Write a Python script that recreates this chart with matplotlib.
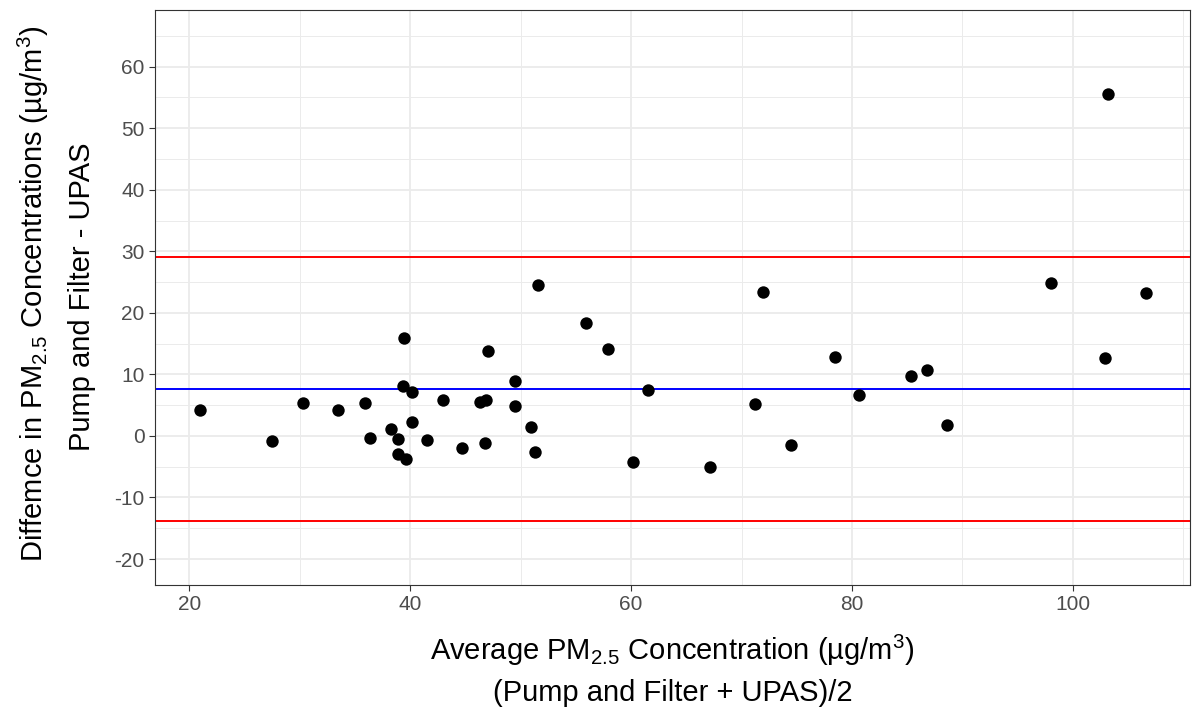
import numpy as np
import matplotlib.pyplot as plt
from matplotlib.ticker import MultipleLocator

plt.rcParams['font.family'] = ['Liberation Sans', 'DejaVu Sans']
plt.rcParams['mathtext.default'] = 'regular'
plt.rcParams['axes.unicode_minus'] = False

# Bland-Altman data
avg_conc = [21.0, 27.5, 30.3, 33.5, 35.9, 36.4, 38.3, 38.9, 38.9, 39.6,
            39.4, 39.3, 40.2, 40.2, 41.5, 43.0, 44.7, 46.3, 46.9, 46.8,
            47.0, 49.5, 49.5, 50.9, 51.3, 51.6, 55.9, 57.9, 61.5, 60.2,
            67.1, 71.9, 71.2, 74.5, 78.5, 80.6, 85.3, 86.8, 88.6, 98.0,
            103.2, 102.9, 106.6]
diff_conc = [4.2, -0.9, 5.4, 4.2, 5.4, -0.4, 1.2, -0.5, -2.9, -3.8,
             15.9, 8.1, 7.1, 2.3, -0.6, 5.8, -1.9, 5.5, 5.8, -1.1,
             13.8, 9.0, 4.9, 1.5, -2.6, 24.5, 18.4, 14.1, 7.5, -4.2,
             -5.0, 23.4, 5.2, -1.4, 12.9, 6.7, 9.8, 10.7, 1.8, 24.9,
             55.6, 12.6, 23.3]
mean_diff = 7.6
upper_loa = 29.1
lower_loa = -13.8

fig = plt.figure(figsize=(11.93, 7.15), dpi=100)
ax = fig.add_axes([0.130, 0.182, 0.8675, 0.804])

ax.scatter(avg_conc, diff_conc, s=80, color='black', zorder=3, linewidths=0)
ax.axhline(upper_loa, color='#FF0000', lw=1.4, zorder=2)
ax.axhline(mean_diff, color='#0000FF', lw=1.4, zorder=2)
ax.axhline(lower_loa, color='#FF0000', lw=1.4, zorder=2)

ax.set_xlim(16.9, 110.6)
ax.set_ylim(-24.2, 69.2)
ax.xaxis.set_major_locator(MultipleLocator(20))
ax.xaxis.set_minor_locator(MultipleLocator(10))
ax.yaxis.set_major_locator(MultipleLocator(10))
ax.yaxis.set_minor_locator(MultipleLocator(5))

ax.grid(which='major', color='#EBEBEB', lw=1.3, zorder=0)
ax.grid(which='minor', color='#EBEBEB', lw=0.7, zorder=0)
ax.set_axisbelow(True)
ax.tick_params(which='minor', length=0)
ax.tick_params(which='major', length=4, width=0.8, color='#333333',
               labelsize=15, labelcolor='#4D4D4D')
for s in ax.spines.values():
    s.set_color('#333333')
    s.set_linewidth(0.8)

fig.text(0.5637, 1 - 650 / 715, 'Average PM$_{2.5}$ Concentration (µg/m$^{3}$)',
         ha='center', va='center', fontsize=21)
fig.text(0.5637, 1 - 693 / 715, '(Pump and Filter + UPAS)/2',
         ha='center', va='center', fontsize=21)
fig.text(33 / 1193, 1 - 294 / 715, 'Diffemce in PM$_{2.5}$ Concentrations (µg/m$^{3}$)',
         ha='center', va='center', rotation=90, fontsize=21)
fig.text(82 / 1193, 1 - 297 / 715, 'Pump and Filter - UPAS',
         ha='center', va='center', rotation=90, fontsize=21)

fig.savefig('out.png', dpi=100)
